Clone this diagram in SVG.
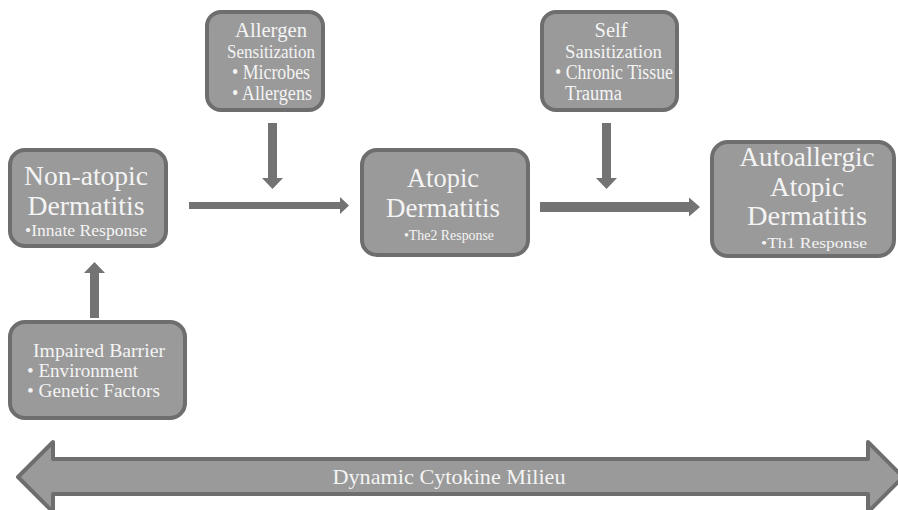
<svg xmlns="http://www.w3.org/2000/svg" width="898" height="510" viewBox="0 0 898 510">
<style>
.box{fill:#9a9a9a;stroke:#6e6e6e;stroke-width:4}
.t{font-family:"Liberation Serif",serif;fill:#f4f4f4}
.arr{fill:#737373}
</style>
<rect width="898" height="510" fill="#ffffff"/>
<g id="connectors">
<path class="arr" d="M189,202 H340 V197 L349,205.5 L340,214 V209 H189 Z"/>
<path class="arr" d="M540,202 H689 V197.5 L700,207 L689,216.5 V212 H540 Z"/>
<path class="arr" d="M268,123 H277 V178 H283 L272.5,189 L262,178 H268 Z"/>
<path class="arr" d="M602,123 H611 V178 H617 L606.5,189 L596,178 H602 Z"/>
<path class="arr" d="M90,318 H99 V273 H105 L94.5,262 L84,273 H90 Z"/>
</g>
<g id="cytokine">
<path d="M18,477 L53,442 V459 H868 V442 L903,477 L868,512 V494 H53 V512 Z" fill="#9a9a9a" stroke="#6e6e6e" stroke-width="4" stroke-linejoin="round"/>
<text class="t" x="449" y="484" font-size="22" text-anchor="middle" textLength="233" lengthAdjust="spacingAndGlyphs">Dynamic Cytokine Milieu</text>
</g>
<g id="nonatopic">
<rect class="box" x="10" y="150" width="156" height="96" rx="15"/>
<text class="t" x="86" y="185" font-size="27" text-anchor="middle" textLength="124" lengthAdjust="spacingAndGlyphs">Non-atopic</text>
<text class="t" x="86" y="215" font-size="27" text-anchor="middle" textLength="117" lengthAdjust="spacingAndGlyphs">Dermatitis</text>
<text class="t" x="86" y="236" font-size="17" text-anchor="middle" textLength="122" lengthAdjust="spacingAndGlyphs">•Innate Response</text>
</g>
<g id="allergen">
<rect class="box" x="207" y="12" width="116" height="98" rx="14"/>
<text class="t" x="271" y="37" font-size="20" text-anchor="middle" textLength="72" lengthAdjust="spacingAndGlyphs">Allergen</text>
<text class="t" x="271" y="58" font-size="19" text-anchor="middle" textLength="88" lengthAdjust="spacingAndGlyphs">Sensitization</text>
<text class="t" x="232" y="79" font-size="20" textLength="78" lengthAdjust="spacingAndGlyphs">• Microbes</text>
<text class="t" x="232" y="100" font-size="20" textLength="80" lengthAdjust="spacingAndGlyphs">• Allergens</text>
</g>
<g id="atopic">
<rect class="box" x="362" y="150" width="166" height="105" rx="15"/>
<text class="t" x="443" y="187" font-size="27" text-anchor="middle" textLength="72" lengthAdjust="spacingAndGlyphs">Atopic</text>
<text class="t" x="443" y="217" font-size="27" text-anchor="middle" textLength="114" lengthAdjust="spacingAndGlyphs">Dermatitis</text>
<text class="t" x="404" y="240" font-size="15" textLength="90" lengthAdjust="spacingAndGlyphs">•The2 Response</text>
</g>
<g id="self">
<rect class="box" x="542" y="12" width="135" height="98" rx="14"/>
<text class="t" x="611" y="37" font-size="20" text-anchor="middle" textLength="33" lengthAdjust="spacingAndGlyphs">Self</text>
<text class="t" x="565" y="58" font-size="19" textLength="97" lengthAdjust="spacingAndGlyphs">Sansitization</text>
<text class="t" x="555" y="79" font-size="20" textLength="118" lengthAdjust="spacingAndGlyphs">• Chronic Tissue</text>
<text class="t" x="565" y="100" font-size="20" textLength="57" lengthAdjust="spacingAndGlyphs">Trauma</text>
</g>
<g id="autoallergic">
<rect class="box" x="712" y="142" width="182" height="114" rx="16"/>
<text class="t" x="807" y="166" font-size="27" text-anchor="middle" textLength="135" lengthAdjust="spacingAndGlyphs">Autoallergic</text>
<text class="t" x="807" y="196" font-size="27" text-anchor="middle" textLength="74" lengthAdjust="spacingAndGlyphs">Atopic</text>
<text class="t" x="807" y="225" font-size="27" text-anchor="middle" textLength="120" lengthAdjust="spacingAndGlyphs">Dermatitis</text>
<text class="t" x="761" y="248" font-size="15" textLength="106" lengthAdjust="spacingAndGlyphs">•Th1 Response</text>
</g>
<g id="impaired">
<rect class="box" x="10" y="322" width="175" height="96" rx="15"/>
<text class="t" x="99" y="357" font-size="19" text-anchor="middle" textLength="132" lengthAdjust="spacingAndGlyphs">Impaired Barrier</text>
<text class="t" x="27" y="377" font-size="19" textLength="111" lengthAdjust="spacingAndGlyphs">• Environment</text>
<text class="t" x="27" y="397" font-size="19" textLength="133" lengthAdjust="spacingAndGlyphs">• Genetic Factors</text>
</g>
</svg>
